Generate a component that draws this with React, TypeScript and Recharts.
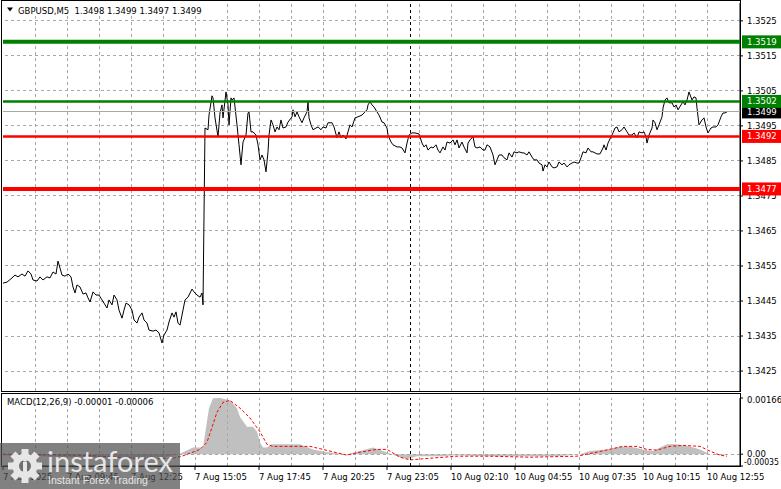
import React from 'react';
import { ComposedChart, Line, Area, XAxis, YAxis, ReferenceLine } from 'recharts';

const FONT = '"DejaVu Sans", Tahoma, sans-serif';

// ---- price data (M5 bars, bar index from the left edge) ----
const priceBars = [
  0, 2, 4.5, 6, 7.5, 9.5, 11, 12.5, 14, 15, 17, 18.5, 20, 22, 23.5, 25, 26.5, 27.5, 28.5, 29.5,
  31, 32.5, 34, 35, 36, 37, 38.5, 40, 41.5, 42.5, 43.5, 45, 46.5, 48, 49.5, 50.5, 52, 53, 54.5, 55.5,
  57, 58, 59.5, 60.5, 61.5, 63, 64.5, 65.5, 67, 68, 69.5, 70.5, 72, 73, 75, 76.5, 78, 79.5, 80.5, 82,
  83, 84.5, 85.5, 86.5, 87.5, 88.5, 90, 91, 92.5, 94.5, 95.5, 97, 98.5, 99.5, 100, 101,
  102.5, 103, 104.5, 105, 106, 107.5, 108.5, 109.5, 110, 111.5, 112.5, 113, 114, 114.5, 115.5, 117,
  118, 119, 120, 121.5, 122.5, 123, 124, 125, 126.5, 127.5, 128.5, 129.5, 130.5, 131.5, 132.5, 133,
  134, 135, 136, 137, 138, 139, 140, 141.5, 142.5, 144.5, 145, 146, 147, 148, 149.5, 150.5, 152,
  152.5, 153, 154, 155, 156.5, 157.5, 159, 160, 161.5, 162.5, 164.5, 165.5, 167, 168, 169, 170,
  171.5, 172.5, 173.5, 174.5, 176, 177.5, 179.5, 180.5, 182, 182.5, 183.5, 184.5, 185.5, 187, 188,
  189.5, 190.5, 192, 192.5, 194, 195, 197, 198.5, 199.5,
  201, 202, 203, 204.5, 206, 208, 209.5, 210.5, 211.5, 212.5, 214, 215, 216.5, 217.5, 218.5, 220,
  221, 222, 223.5, 225, 226, 227, 228, 229.5, 230.5, 232, 232.5, 233.5, 234.5, 235, 236, 237, 238.5,
  240, 241, 242, 243.5, 245, 246, 247, 248, 249.5, 250.5, 252, 253, 254.5, 255.5, 257, 258, 259.5,
  260.5, 262, 263, 264.5, 265.5, 267, 268, 269.5, 270, 271, 272, 273, 274.5, 275.5, 277, 278, 279.5,
  280.5, 282, 283, 284.5, 285.5, 287, 288, 289, 290, 291.5, 292.5, 294, 295, 297, 298.5,
  300, 300.5, 301.5, 302.5, 304, 305, 306, 307, 308, 309.5, 310.5, 312, 313, 314.5, 315.5, 317, 318,
  319.5, 320.5, 321.5, 322, 323, 324.5, 325, 326, 327, 328, 329.5, 330, 331, 332, 333, 334.5, 335.5,
  336.5, 337.5, 339, 340, 341, 342, 343, 344.5, 345.5, 346.5, 347, 348, 349.5, 350.5, 351.5, 352.5,
  354, 355, 356.5, 357.5, 359, 360, 361, 362,
];
const priceCloses = [
  1.34501, 1.34504, 1.34516, 1.34524, 1.34519, 1.34527, 1.34521, 1.34536, 1.34527, 1.3451, 1.34507, 1.34519, 1.3451, 1.34519, 1.34516, 1.34533, 1.34527, 1.34564, 1.34544, 1.34524,
  1.34521, 1.34527, 1.34519, 1.3449, 1.34473, 1.34496, 1.3449, 1.3447, 1.34473, 1.34459, 1.34447, 1.34476, 1.34467, 1.34467, 1.34453, 1.34444, 1.3443, 1.34453, 1.34439, 1.34467,
  1.34453, 1.34424, 1.34401, 1.34424, 1.34444, 1.34439, 1.34424, 1.34396, 1.34387, 1.34404, 1.34416, 1.34396, 1.34387, 1.34367, 1.34364, 1.34367, 1.34359, 1.3433, 1.34353, 1.34367,
  1.3439, 1.34416, 1.34404, 1.34419, 1.34387, 1.34381, 1.34424, 1.34453, 1.34461, 1.34484, 1.34476, 1.34467, 1.34461, 1.34473, 1.34439, 1.34944,
  1.34939, 1.34981, 1.35036, 1.3503, 1.34973, 1.34919, 1.34987, 1.3501, 1.34973, 1.35047, 1.3501, 1.34953, 1.3503, 1.35024, 1.3503, 1.34953,
  1.34896, 1.34839, 1.34904, 1.34924, 1.34987, 1.3499, 1.34933, 1.34933, 1.34924, 1.34896, 1.34853, 1.34867, 1.34853, 1.34819, 1.34876, 1.34924,
  1.34967, 1.34953, 1.34933, 1.34947, 1.34939, 1.34967, 1.34944, 1.34947, 1.34961, 1.34976, 1.34996, 1.34976, 1.3499, 1.34976, 1.34959, 1.34973, 1.3499,
  1.35019, 1.34973, 1.34953, 1.34939, 1.34944, 1.34947, 1.34939, 1.34947, 1.34944, 1.34959, 1.34959, 1.34947, 1.34916, 1.34933, 1.34916, 1.34924,
  1.34913, 1.34933, 1.34953, 1.34947, 1.34973, 1.34976, 1.34981, 1.34987, 1.34996, 1.3501, 1.35019, 1.3501, 1.35004, 1.3499, 1.34981,
  1.34961, 1.34959, 1.34944, 1.34924, 1.34904, 1.34896, 1.3489, 1.3489, 1.34887,
  1.34873, 1.34901, 1.34924, 1.3493, 1.3493, 1.34927, 1.34901, 1.3489, 1.34896, 1.34881, 1.3489, 1.34887, 1.34896, 1.34881, 1.34873, 1.3489,
  1.34881, 1.34904, 1.34901, 1.3491, 1.34896, 1.3491, 1.34887, 1.34904, 1.3489, 1.34873, 1.34901, 1.3491, 1.34916, 1.34919, 1.3489, 1.34887, 1.3489,
  1.34881, 1.34881, 1.34896, 1.3489, 1.34867, 1.34839, 1.34853, 1.34867, 1.34867, 1.34859, 1.34853, 1.34873, 1.34861, 1.34876, 1.34873, 1.34876, 1.34873,
  1.34873, 1.34867, 1.34876, 1.34861, 1.34853, 1.34853, 1.34844, 1.34839, 1.34821, 1.34839, 1.34833, 1.34847, 1.34833, 1.3483, 1.34833, 1.34847, 1.34839,
  1.34844, 1.34833, 1.34839, 1.34844, 1.34847, 1.34844, 1.34844, 1.34859, 1.34876, 1.34873, 1.34887, 1.34876, 1.34876, 1.3487, 1.3487,
  1.34887, 1.34896, 1.34881, 1.34901, 1.34919, 1.3493, 1.34944, 1.34947, 1.34933, 1.34939, 1.34947, 1.34933, 1.34924, 1.34924, 1.3493, 1.34916, 1.34933,
  1.3493, 1.34933, 1.34919, 1.34901, 1.34924, 1.34944, 1.34967, 1.34959, 1.34939, 1.34953, 1.34976, 1.35001, 1.35024, 1.3503, 1.35016, 1.35016, 1.35004,
  1.3501, 1.34996, 1.3501, 1.35019, 1.3501, 1.35024, 1.35047, 1.35024, 1.35033, 1.3503, 1.35001, 1.34953, 1.34967, 1.34973, 1.34947, 1.3493,
  1.34944, 1.34947, 1.34947, 1.34953, 1.34976, 1.34987, 1.34987, 1.3499,
];

const titleSymbol = 'GBPUSD,M5';
const titleOHLC = [1.3498, 1.3499, 1.3497, 1.3499];

const priceTicks = [1.3425, 1.3435, 1.3445, 1.3455, 1.3465, 1.3475, 1.3485, 1.3495, 1.3505, 1.3515, 1.3525];
const timeTickBars = [0, 32, 64, 96, 128, 160, 192, 224, 256, 288, 320, 352];
const timeLabels = ['7 Aug 2025', '7 Aug 09:45', '7 Aug 12:25', '7 Aug 15:05', '7 Aug 17:45', '7 Aug 20:25',
  '7 Aug 23:05', '10 Aug 02:10', '10 Aug 04:55', '10 Aug 07:35', '10 Aug 10:15', '10 Aug 12:55'];
const gridBars = [16, 32, 48, 64, 80, 96, 112, 128, 144, 160, 176, 192, 208, 224, 240, 256, 272, 288, 304, 320, 336, 352];
const separatorBar = 203.5;

const levelPrices = [1.3519, 1.3502, 1.3492, 1.3477];
const bidPrice = 1.3499;

// ---- MACD(12,26,9) ----
const histBars = [0, 20, 40, 60, 80, 88, 90, 95, 100, 101.5, 103, 105, 108.5, 113.5, 117, 118.5, 122, 125, 127, 128.5,
  130, 132, 134.5, 148.5, 155, 162, 172, 178.5, 185, 190, 197, 202, 207, 218.5, 227, 243.5, 260, 277, 288.5, 293.5,
  302, 308.5, 313.5, 320, 325, 332, 337, 343.5, 348.5, 353.5, 358.5, 362];
const histValues = [-0.00003, -0.00006, -0.00009, -0.00012, -0.00009, 0, 0.00006, 0.0002, 0.0002, 0.00078, 0.00136, 0.00165, 0.00166, 0.00159, 0.00136, 0.0011, 0.00081, 0.00081, 0.00066, 0.00035,
  0.0002, 0.0002, 0.00029, 0.00029, 0.00014, 0.00006, 0, 0.00009, 0.0002, 0.00009, -0.00006, -0.00014, -0.00006, -0.00006, -0.00003, -0.00006, -0.00006, -0.00006, 0, 0.00009,
  0.00014, 0.00023, 0.00023, 0.00014, 0.00009, 0.00029, 0.00029, 0.00023, 0.00014, 0, -0.00003, -0.00001];
const signalBars = [0, 40, 70, 85, 89.5, 98.5, 102, 107, 110, 113.5, 118.5, 123.5, 128.5, 132, 135, 153.5, 160, 172, 178.5, 187,
  192, 198.5, 203.5, 213.5, 227, 243.5, 263.5, 287, 297, 310, 317, 322, 327, 333.5, 340, 348.5, 353.5, 358.5, 362];
const signalValues = [0, -0.00003, -0.00014, -0.00012, -0.00006, 0.00014, 0.00035, 0.00124, 0.00153, 0.00159, 0.00136, 0.00107, 0.00066, 0.00029, 0.00023, 0.00023, 0.00014, -0.00003, 0.00006, 0.00014,
  0.00014, -0.00009, -0.00017, -0.00012, -0.00006, -0.00006, -0.00009, -0.00006, 0.00006, 0.00023, 0.00023, 0.00014, 0.00012, 0.00023, 0.00026, 0.00023, 0.00009, -0.00003, -0.00006];
const macdTicks = [0.00166, 0, -0.00035];
const macdLast = [-0.00001, -0.00006];

// ---- styles ----
const LEVEL_STYLE = [
  { color: '#008000', width: 4 },
  { color: '#008000', width: 2.5 },
  { color: '#ff0000', width: 2.5 },
  { color: '#ff0000', width: 4 },
];
const GRID_STROKE = '#a8a8a8';
const X_DOMAIN: [number, number] = [0, 368.5];
const PRICE_DOMAIN: [number, number] = [1.34193, 1.35301];
const MACD_DOMAIN: [number, number] = [-0.00035, 0.00166];
const MAIN_MARGIN = { top: 3, right: 0, bottom: 1, left: 3 };
const MACD_MARGIN = { top: 5, right: 0, bottom: 0, left: 3 };

const priceRows = priceBars.map((b, i) => ({ bar: b, price: priceCloses[i] }));
const macdRows = Array.from(new Set([...histBars, ...signalBars]))
  .sort((a, b) => a - b)
  .map((b) => {
    const hi = histBars.indexOf(b);
    const si = signalBars.indexOf(b);
    return { bar: b, hist: hi >= 0 ? histValues[hi] : null, signal: si >= 0 ? signalValues[si] : null };
  });

const LevelTag = (props: any) => {
  const { viewBox, text, fill } = props;
  if (!viewBox) return null;
  const x = viewBox.x + viewBox.width + 2;
  const y = viewBox.y;
  return (
    <g>
      <rect x={x} y={y - 6.5} width={40} height={13} fill={fill} />
      <text x={x + 5} y={y} dy="0.36em" fontSize={8.5} fontFamily={FONT} fill="#fff">{text}</text>
    </g>
  );
};

const TimeTick = (props: any) => {
  const { x, y, payload } = props;
  const idx = timeTickBars.indexOf(payload.value);
  return (
    <text x={x} y={y} dy="0.71em" textAnchor="start" fontSize={8.5} fontFamily={FONT} fill="#000">
      {idx >= 0 ? timeLabels[idx] : ''}
    </text>
  );
};

const MacdTick = (props: any) => {
  const { x, y, payload } = props;
  const v = payload.value as number;
  const label = v === 0 ? '0.00' : v.toFixed(5);
  const shift = v > 0 ? 2 : v < 0 ? -4 : 0;
  const extra = v < 0 ? { textLength: 35, lengthAdjust: 'spacingAndGlyphs' } : {};
  return (
    <text x={v < 0 ? x - 3 : x} y={y + shift} dy="0.36em" textAnchor="start" fontSize={8.5} fontFamily={FONT} fill="#000" {...extra}>{label}</text>
  );
};

const layer = (top: number): React.CSSProperties => ({ position: 'absolute', left: 0, top });

export default function App() {
  return (
    <div style={{ position: 'absolute', left: 0, top: 0, width: 781, height: 489, background: '#fff', overflow: 'hidden', fontFamily: FONT }}>
      {/* main panel: grid, price axis, price line */}
      <div style={layer(0)}>
        <ComposedChart width={781} height={392} data={priceRows} margin={MAIN_MARGIN}>
          <XAxis dataKey="bar" type="number" domain={X_DOMAIN} allowDataOverflow hide />
          <YAxis orientation="right" type="number" domain={PRICE_DOMAIN} allowDataOverflow ticks={priceTicks} interval={0}
            width={41} axisLine={{ stroke: '#000' }} tickLine={{ stroke: '#000' }} tickSize={3} tickMargin={4}
            tick={{ fontSize: 8.5, fill: '#000', fontFamily: FONT }} tickFormatter={(v: number) => v.toFixed(4)} />
          {priceTicks.map((p) => (
            <ReferenceLine key={'h' + p} y={p} stroke={GRID_STROKE} strokeDasharray="3 3" shapeRendering="crispEdges" />
          ))}
          {gridBars.map((b) => (
            <ReferenceLine key={'v' + b} x={b} stroke={GRID_STROKE} strokeDasharray="3 3" shapeRendering="crispEdges" />
          ))}
          <ReferenceLine x={separatorBar} stroke="#000" strokeDasharray="3 3" shapeRendering="crispEdges" />
          <Line dataKey="price" type="linear" stroke="#000" strokeWidth={1} dot={false} isAnimationActive={false} />
        </ComposedChart>
      </div>
      {/* main panel: level lines */}
      <div style={layer(0)}>
        <ComposedChart width={781} height={392} data={priceRows} margin={MAIN_MARGIN}>
          <XAxis dataKey="bar" type="number" domain={X_DOMAIN} allowDataOverflow hide />
          <YAxis orientation="right" type="number" domain={PRICE_DOMAIN} allowDataOverflow width={41}
            tick={false} axisLine={false} tickLine={false} />
          <ReferenceLine y={bidPrice} stroke="#a8a8a8" strokeWidth={1} shapeRendering="crispEdges"
            label={<LevelTag text={bidPrice.toFixed(4)} fill="#000" />} />
          {levelPrices.map((p, i) => (
            <ReferenceLine key={p} y={p} stroke={LEVEL_STYLE[i].color} strokeWidth={LEVEL_STYLE[i].width}
              label={<LevelTag text={p.toFixed(4)} fill={LEVEL_STYLE[i].color} />} />
          ))}
        </ComposedChart>
      </div>
      {/* MACD panel */}
      <div style={layer(393)}>
        <ComposedChart width={781} height={96} data={macdRows} margin={MACD_MARGIN}>
          <XAxis dataKey="bar" type="number" domain={X_DOMAIN} allowDataOverflow ticks={timeTickBars} interval={0}
            height={23} axisLine={{ stroke: '#000' }} tickLine={{ stroke: '#000' }} tickSize={4} tickMargin={4}
            tick={<TimeTick />} />
          <YAxis orientation="right" type="number" domain={MACD_DOMAIN} allowDataOverflow ticks={macdTicks} interval={0}
            width={41} axisLine={{ stroke: '#000' }} tickLine={{ stroke: '#000' }} tickSize={3} tickMargin={4}
            tick={<MacdTick />} />
          <ReferenceLine y={0} stroke={GRID_STROKE} strokeDasharray="3 3" shapeRendering="crispEdges" />
          {gridBars.map((b) => (
            <ReferenceLine key={'mv' + b} x={b} stroke={GRID_STROKE} strokeDasharray="3 3" shapeRendering="crispEdges" />
          ))}
          <Area dataKey="hist" type="linear" baseValue={0} fill="#c0c0c0" fillOpacity={1} stroke="none"
            connectNulls isAnimationActive={false} />
          <Line dataKey="signal" type="linear" stroke="#ff0000" strokeWidth={1} strokeDasharray="3 2" dot={false}
            connectNulls isAnimationActive={false} />
          <ReferenceLine x={separatorBar} stroke="#000" strokeDasharray="3 3" shapeRendering="crispEdges" />
        </ComposedChart>
      </div>
      {/* frames and labels */}
      <svg width={781} height={489} style={{ position: 'absolute', left: 0, top: 0, pointerEvents: 'none' }}>
        <rect x={1.5} y={0.5} width={739} height={391} fill="none" stroke="#000" />
        <rect x={1.5} y={393.5} width={739} height={73} fill="none" stroke="#000" />
        <rect x={3} y={2} width={198} height={14} fill="#fff" />
        <polygon points="7,7.5 13,7.5 10,11.5" fill="#000" />
        <text x={18} y={13.5} fontSize={8.5} fontFamily={FONT} fill="#000" xmlSpace="preserve">
          {`${titleSymbol}  ${titleOHLC.map((v) => v.toFixed(4)).join(' ')}`}
        </text>
        <text x={7} y={404.5} fontSize={8.5} fontFamily={FONT} fill="#000">
          {`MACD(12,26,9) ${macdLast.map((v) => v.toFixed(5)).join(' ')}`}
        </text>
      </svg>
      {/* watermark */}
      <svg width={180} height={46} style={{ position: 'absolute', left: 0, top: 443, pointerEvents: 'none' }}>
        <rect x={0} y={0} width={180} height={46} fill="rgba(80,80,80,0.72)" />
        <g transform="translate(25,23)" fill="#e6e6e6">
          {[0, 45, 90, 135, 180, 225, 270, 315].map((a) => (
            <rect key={a} x={-3.5} y={-17} width={7} height={7} transform={`rotate(${a})`} />
          ))}
          <circle r={12.5} />
          <circle r={6} fill="#6e6e6e" />
          <rect x={-2} y={-4} width={4} height={14} fill="#e6e6e6" />
          <circle cx={0} cy={-6.5} r={2.2} fill="#e6e6e6" />
        </g>
        <text x={47} y={29} fontSize={29} fontFamily="Lato, 'Liberation Sans', sans-serif" fill="#e6e6e6"
          textLength={126} lengthAdjust="spacingAndGlyphs">instaforex</text>
        <text x={48} y={40.5} fontSize={11} fontFamily="'Liberation Sans', Arial, sans-serif" fill="#e6e6e6"
          textLength={100} lengthAdjust="spacingAndGlyphs">Instant Forex Trading</text>
      </svg>
    </div>
  );
}
